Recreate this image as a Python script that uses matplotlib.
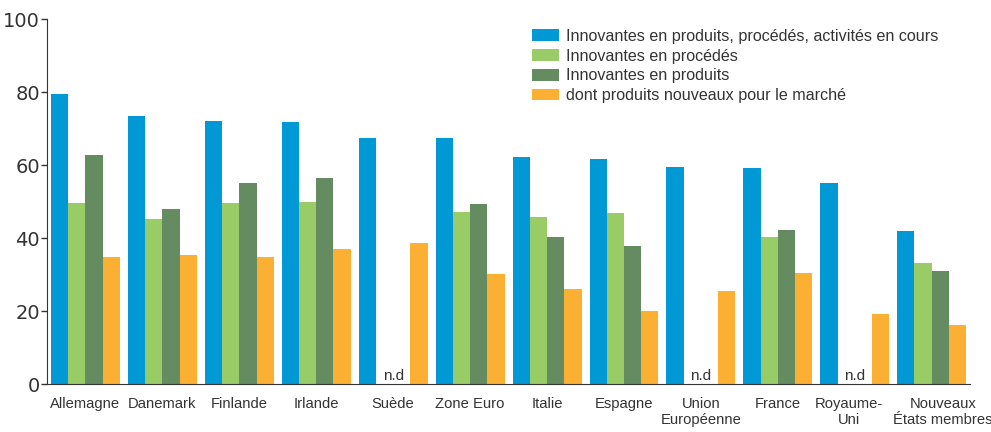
import numpy as np
import matplotlib.pyplot as plt
import matplotlib.transforms as mtransforms

pays = ['Allemagne', 'Danemark', 'Finlande', 'Irlande', 'Suède', 'Zone Euro',
        'Italie', 'Espagne', 'Union\nEuropéenne', 'France', 'Royaume-\nUni',
        'Nouveaux\nÉtats membres']
nan = np.nan
# valeurs (nan = n.d)
prod_proc = [79.4, 73.4, 72.0, 71.8, 67.4, 67.4, 62.2, 61.6, 59.5, 59.2, 55.0, 41.9]
procedes = [49.6, 45.2, 49.6, 49.9, nan, 47.1, 45.8, 46.8, nan, 40.3, nan, 33.2]
produits = [62.7, 47.9, 55.0, 56.4, nan, 49.3, 40.3, 37.8, nan, 42.2, nan, 31.0]
nouveaux = [34.8, 35.3, 34.8, 37.0, 38.6, 30.1, 26.0, 20.0, 25.5, 30.4, 19.2, 16.2]

series = [prod_proc, procedes, produits, nouveaux]
noms = ['Innovantes en produits, procédés, activités en cours',
        'Innovantes en procédés',
        'Innovantes en produits',
        'dont produits nouveaux pour le marché']
couleurs = ['#0099d6', '#99cc66', '#658b60', '#fbb034']

narrow = ['Liberation Sans Narrow', 'Liberation Sans', 'DejaVu Sans']

fig = plt.figure(figsize=(9.91, 4.32), dpi=100)
ax = fig.add_axes([0.0474, 0.111, 0.9316, 0.845])

x = np.arange(len(pays))
w = 0.224
for i, (vals, nom, c) in enumerate(zip(series, noms, couleurs)):
    ax.bar(x + (i - 1.5) * w, vals, width=w, color=c, label=nom, linewidth=0)

# n.d
for i in range(len(pays)):
    if np.isnan(procedes[i]):
        ax.text(x[i], 0.3, 'n.d', ha='center', va='bottom', fontsize=11,
                family=narrow, color='#333333')

ax.set_xlim(-0.5, len(pays) - 0.5)
ax.set_ylim(0, 100)
ax.set_yticks([0, 20, 40, 60, 80, 100])
ax.set_xticks(x)
ax.set_xticklabels(pays, family=narrow, fontsize=10.6, color='#333333',
                   linespacing=1.25)
ax.tick_params(axis='x', length=0, pad=9)
ax.tick_params(axis='y', length=4, width=1, colors='#333333', labelsize=14, pad=1)

# décaler un peu les deux derniers libellés pour qu'ils ne se touchent pas
labs = ax.get_xticklabels()
labs[-2].set_transform(labs[-2].get_transform() +
                       mtransforms.ScaledTranslation(-4 / 72, 0, fig.dpi_scale_trans))
labs[-1].set_transform(labs[-1].get_transform() +
                       mtransforms.ScaledTranslation(8 / 72, 0, fig.dpi_scale_trans))

for s in ['top', 'right']:
    ax.spines[s].set_visible(False)
ax.spines['left'].set_color('#333333')
ax.spines['bottom'].set_color('#333333')

leg = ax.legend(loc='upper left', bbox_to_anchor=(0.515, 1.0), frameon=False,
                prop={'family': narrow, 'size': 11.6}, handlelength=1.7,
                handleheight=0.75, handletextpad=0.4, labelspacing=0.3,
                borderaxespad=0.2)
for t in leg.get_texts():
    t.set_color('#333333')

fig.savefig('out.png', dpi=100)
